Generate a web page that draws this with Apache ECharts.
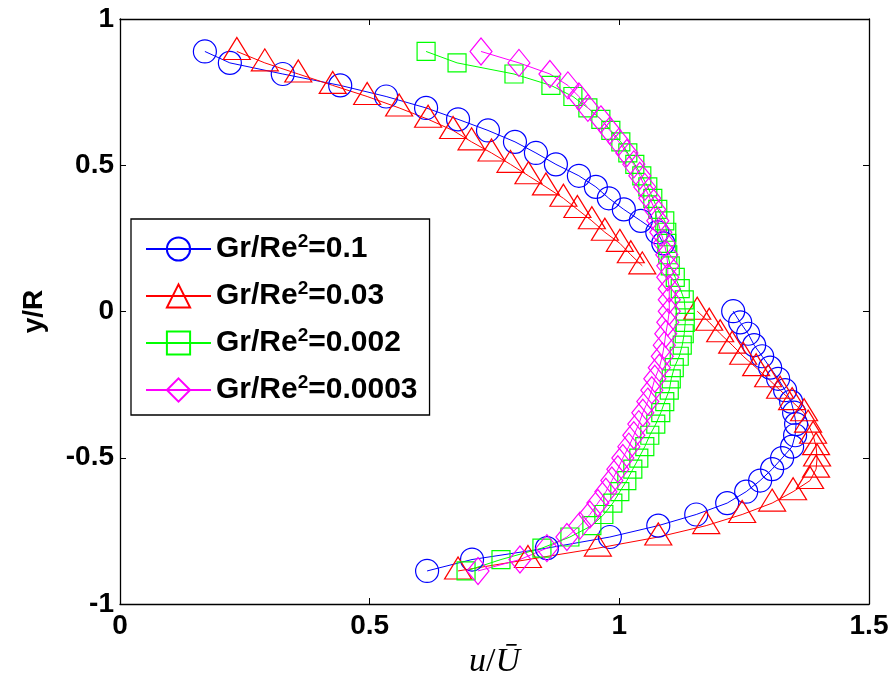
<!DOCTYPE html>
<html>
<head>
<meta charset="utf-8">
<script src="https://cdn.jsdelivr.net/npm/echarts@6/dist/echarts.min.js"></script>
<style>
html,body{margin:0;padding:0;background:#fff;}
#chart{width:896px;height:686px;}
</style>
</head>
<body>
<div id="chart"></div>
<script>
// Radial stations y/R shared by all profiles
const yLevels = [0.889,0.850,0.812,0.773,0.735,0.696,0.657,0.619,0.580,0.542,0.503,0.464,0.426,0.387,0.349,0.310,0.271,0.233,0.194,0.156,0.117,0.078,0.040,0.001,-0.037,-0.076,-0.115,-0.153,-0.192,-0.230,-0.269,-0.308,-0.346,-0.385,-0.423,-0.462,-0.501,-0.539,-0.578,-0.616,-0.655,-0.694,-0.732,-0.771,-0.809,-0.848,-0.887];

// u/Ubar values for each series (null = no point at that station)
const x_01 = [0.170,0.220,0.326,0.441,0.533,0.613,0.677,0.737,0.791,0.833,0.873,0.919,0.953,0.979,1.009,1.043,1.076,1.088,null,null,null,null,null,1.228,1.242,1.258,1.270,1.286,1.302,1.318,1.332,1.344,1.350,1.354,1.352,1.346,1.326,1.306,1.282,1.254,1.216,1.154,1.078,0.981,0.855,0.705,0.615];
const x_003 = [0.234,0.290,0.357,0.426,0.495,0.559,0.617,0.667,0.704,0.744,0.782,0.818,0.853,0.888,0.916,0.945,0.971,1.001,1.023,1.046,null,null,null,1.156,1.180,1.202,1.226,1.248,1.274,1.298,1.322,1.346,1.370,1.378,1.388,1.394,1.396,1.394,1.382,1.348,1.306,1.246,1.174,1.078,0.957,0.817,0.677];
const x_0002 = [0.613,0.675,0.789,0.863,0.907,0.937,0.963,0.983,1.003,1.017,1.031,1.045,1.057,1.067,1.077,1.091,1.095,1.095,1.097,1.102,1.112,1.122,1.130,1.132,1.132,1.130,1.126,1.120,1.110,1.104,1.100,1.091,1.083,1.073,1.061,1.051,1.039,1.027,1.015,1.001,0.987,0.969,0.945,0.901,0.845,0.763,0.693];
const x_00003 = [0.723,0.799,0.861,0.897,0.919,0.937,0.963,0.981,0.999,1.015,1.029,1.041,1.051,1.061,1.071,1.077,1.083,1.090,1.095,1.097,1.097,1.100,1.100,1.100,1.097,1.093,1.090,1.086,1.080,1.071,1.065,1.057,1.047,1.039,1.029,1.019,1.007,0.997,0.985,0.973,0.957,0.941,0.921,0.895,0.855,0.801,0.717];

const seriesNames = ['Gr/Re²=0.1','Gr/Re²=0.03','Gr/Re²=0.002','Gr/Re²=0.0003'];
const xTicks = [0, 0.5, 1, 1.5];
const yTicks = [-1, -0.5, 0, 0.5, 1];

function pairs(xs){
  return yLevels.map((y,i) => xs[i] == null ? ['-','-'] : [xs[i], y]);
}

const FONT = 'Liberation Sans';
const styles = [
  {x:x_01, color:'#0000ff', symbol:'circle', size:23, offset:[0,0]},
  {x:x_003, color:'#ff0000', symbol:'triangle', size:[27,22], offset:[0,-3]},
  {x:x_0002, color:'#00ff00', symbol:'rect', size:18, offset:[0,0]},
  {x:x_00003, color:'#ff00ff', symbol:'diamond', size:[22,27], offset:[0,0]}
];

const series = styles.map((s,i) => ({
  name: seriesNames[i],
  type: 'line',
  data: pairs(s.x),
  connectNulls: false,
  symbol: s.symbol,
  symbolSize: s.size,
  symbolOffset: s.offset,
  showSymbol: true,
  showAllSymbol: true,
  clip: false,
  xAxisIndex: 0, yAxisIndex: 0,
  lineStyle: {color: s.color, width: 1},
  itemStyle: {color: 'rgba(0,0,0,0)', borderColor: s.color, borderWidth: 1.2},
  emphasis: {disabled: true},
  silent: true
}));

const axisCommon = {
  axisLine: {show: true, onZero: false, lineStyle: {color: '#000', width: 1.3}},
  axisTick: {show: true, inside: true, length: 6, lineStyle: {color: '#000', width: 1}},
  splitLine: {show: false}
};

const chart = echarts.init(document.getElementById('chart'), null, {renderer: 'canvas'});
chart.setOption({
  animation: false,
  backgroundColor: '#fff',
  grid: {left: 120, right: 27, top: 19, bottom: 82, containLabel: false, outerBoundsMode: 'none'},
  xAxis: [
    Object.assign({}, axisCommon, {
      type: 'value', position: 'bottom', min: xTicks[0], max: xTicks[xTicks.length-1], interval: 0.5,
      axisLabel: {show: true, margin: 8, color: '#000', fontFamily: FONT, fontWeight: 'bold', fontSize: 28,
        formatter: v => String(v)},
      name: '{i|u}/{i|Ū}', nameLocation: 'middle', nameGap: 30,
      nameTextStyle: {color: '#000', fontFamily: 'Liberation Serif', fontSize: 34,
        rich: {i: {fontFamily: 'Liberation Serif', fontStyle: 'italic', fontSize: 34, color: '#000'}}}
    }),
    Object.assign({}, axisCommon, {
      type: 'value', position: 'top', min: 0, max: 1.5, interval: 0.5,
      axisLabel: {show: false}
    })
  ],
  yAxis: [
    Object.assign({}, axisCommon, {
      type: 'value', position: 'left', min: yTicks[0], max: yTicks[yTicks.length-1], interval: 0.5,
      axisLabel: {show: true, margin: 6, color: '#000', fontFamily: FONT, fontWeight: 'bold', fontSize: 28,
        formatter: v => String(v)},
      name: 'y/R', nameLocation: 'middle', nameGap: 72,
      nameTextStyle: {color: '#000', fontFamily: FONT, fontWeight: 'bold', fontSize: 28}
    }),
    Object.assign({}, axisCommon, {
      type: 'value', position: 'right', min: -1, max: 1, interval: 0.5,
      axisLabel: {show: false}
    })
  ],
  legend: {
    orient: 'vertical', left: 131, top: 219,
    padding: [13, 12, 10, 14],
    itemWidth: 65, itemHeight: 29, itemGap: 15,
    borderColor: '#000', borderWidth: 1.3, backgroundColor: '#fff',
    selectedMode: false,
    data: seriesNames,
    formatter: n => n.replace('²', '{sup|2}'),
    textStyle: {color: '#000', fontFamily: FONT, fontWeight: 'bold', fontSize: 30,
      rich: {sup: {color: '#000', fontFamily: FONT, fontWeight: 'bold', fontSize: 19, padding: [0, 0, 15, 0]}}}
  },
  series: series
});
</script>
</body>
</html>
